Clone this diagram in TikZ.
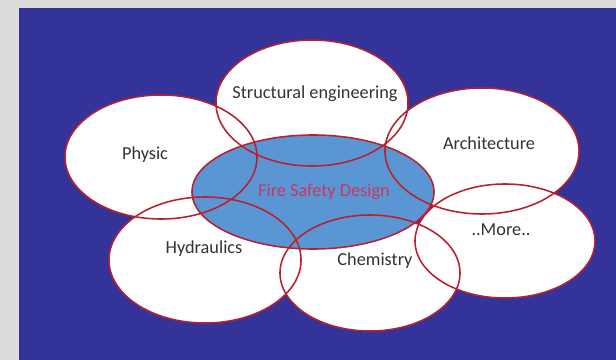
\documentclass[tikz,border=0pt]{standalone}
\usepackage{fontspec}
\setmainfont{Carlito}
\usepackage{tikz}
\usetikzlibrary{shapes.geometric}

\definecolor{slate}{HTML}{DCDCDC}
\definecolor{navy}{HTML}{333399}
\definecolor{core}{HTML}{5B96D4}
\definecolor{rim}{HTML}{B8202E}
\definecolor{coretext}{HTML}{C8385A}

\tikzset{
  lobe/.style={ellipse, inner sep=0pt, fill=white},
  lobe rim/.style={ellipse, inner sep=0pt, draw=rim, line width=1.1pt},
  tag/.style={font=\fontsize{13}{15}\selectfont, text=black!80}
}

\begin{document}
\begin{tikzpicture}[x=0.025cm, y=-0.025cm]
  \fill[slate] (0,0) rectangle (616,360);
  \fill[navy] (19,8) rectangle (616,360);
  \useasboundingbox (0,0) rectangle (616,360);

  \node[lobe, minimum width=4.8cm, minimum height=3.15cm] (struct) at (312,103) {};
  \node[lobe, minimum width=4.8cm, minimum height=3.1cm] (physic) at (161,157) {};
  \node[lobe, minimum width=4.85cm, minimum height=3.15cm] (arch) at (482,151) {};
  \node[lobe, minimum width=4.8cm, minimum height=3.15cm] (hydro) at (205,260) {};
  \node[lobe, minimum width=4.5cm, minimum height=2.9cm] (chem) at (370,273) {};
  \node[lobe, minimum width=4.5cm, minimum height=2.85cm] (more) at (505,241) {};
  \node[lobe, fill=core, minimum width=6.05cm, minimum height=2.85cm] (fsd) at (313,192) {};

  \node[lobe rim, minimum width=4.8cm, minimum height=3.15cm] at (struct) {};
  \node[lobe rim, minimum width=4.8cm, minimum height=3.1cm] at (physic) {};
  \node[lobe rim, minimum width=4.85cm, minimum height=3.15cm] at (arch) {};
  \node[lobe rim, minimum width=4.8cm, minimum height=3.15cm] at (hydro) {};
  \node[lobe rim, minimum width=4.5cm, minimum height=2.9cm] at (chem) {};
  \node[lobe rim, minimum width=4.5cm, minimum height=2.85cm] at (more) {};
  \node[lobe rim, minimum width=6.05cm, minimum height=2.85cm] at (fsd) {};

  \node[tag] at (315,94) {Structural engineering};
  \node[tag] at (145,155) {Physic};
  \node[tag] at (489,143) {Architecture};
  \node[tag] at (204,249) {Hydraulics};
  \node[tag] at (375,261) {Chemistry};
  \node[tag] at (501,230) {..More..};
  \node[tag, text=coretext] at (324,192) {Fire Safety Design};
\end{tikzpicture}
\end{document}
